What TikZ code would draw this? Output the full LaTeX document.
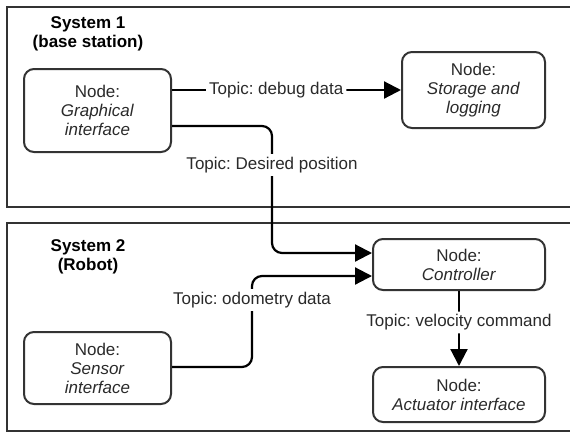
\documentclass[tikz,border=0pt]{standalone}
\usepackage{fontspec}
\setmainfont{Liberation Sans}
\usetikzlibrary{arrows.meta,calc}
\definecolor{txt}{HTML}{2a2a2a}
\definecolor{bord}{HTML}{333333}
\frenchspacing
\begin{document}
\begin{tikzpicture}[x=1pt,y=-1pt,
  sysbox/.style={draw=bord,line width=2pt},
  rosnode/.style={draw=bord,line width=2pt,rounded corners=10pt,align=center,inner sep=0pt,
     font=\frenchspacing\fontsize{17}{19}\selectfont,text=txt},
  lbl/.style={fill=white,inner sep=3pt,font=\frenchspacing\fontsize{17}{19}\selectfont,text=txt},
  syslbl/.style={align=center,font=\fontsize{17}{19.5}\selectfont\bfseries,text=black},
  conn/.style={line width=2.2pt,rounded corners=10pt},
  arr/.style={conn,-{Triangle[length=17pt,width=17pt]}}]
\useasboundingbox (0,0) rectangle (570,432);
\clip (0,0) rectangle (570,432);
\draw[sysbox] (7,7) rectangle (580,207);
\draw[sysbox] (7,223) rectangle (580,431);
\node[syslbl] (s1) at (88,34) {System 1\\(base station)};
\node[syslbl] (s2) at (88,257) {System 2\\(Robot)};
\node[rosnode,minimum width=147pt,minimum height=83pt] (gi) at (97.5,110.5) {Node:\\\textit{Graphical}\\\textit{interface}};
\node[rosnode,minimum width=143pt,minimum height=76pt] (st) at (473.5,90) {Node:\\\textit{Storage and}\\\textit{logging}};
\node[rosnode,minimum width=172pt,minimum height=51pt] (ctl) at (459,264.5) {Node:\\\textit{Controller}};
\node[rosnode,minimum width=147pt,minimum height=72pt] (si) at (97.5,368) {Node:\\\textit{Sensor}\\\textit{interface}};
\node[rosnode,minimum width=172pt,minimum height=55pt] (act) at (459,394.5) {Node:\\\textit{Actuator interface}};
\coordinate (c1) at (272,126);
\coordinate (c2) at (272,253);
\coordinate (c3) at (252,367);
\coordinate (c4) at (252,276);
\draw[arr] (gi.east |- st.west) -- node[lbl,pos=0.455]{Topic: debug data} (st.west);
\draw[arr] (gi.east |- c1) -- (c1) -- node[lbl,pos=0.307]{Topic: Desired position} (c2) -- (ctl.west |- c2);
\draw[arr] (si.east |- c3) -- (c3) -- node[lbl,pos=0.736]{Topic: odometry data} (c4) -- (ctl.west |- c4);
\draw[arr] (ctl.south) -- node[lbl,pos=0.42]{Topic: velocity command} (act.north);
\end{tikzpicture}
\end{document}
